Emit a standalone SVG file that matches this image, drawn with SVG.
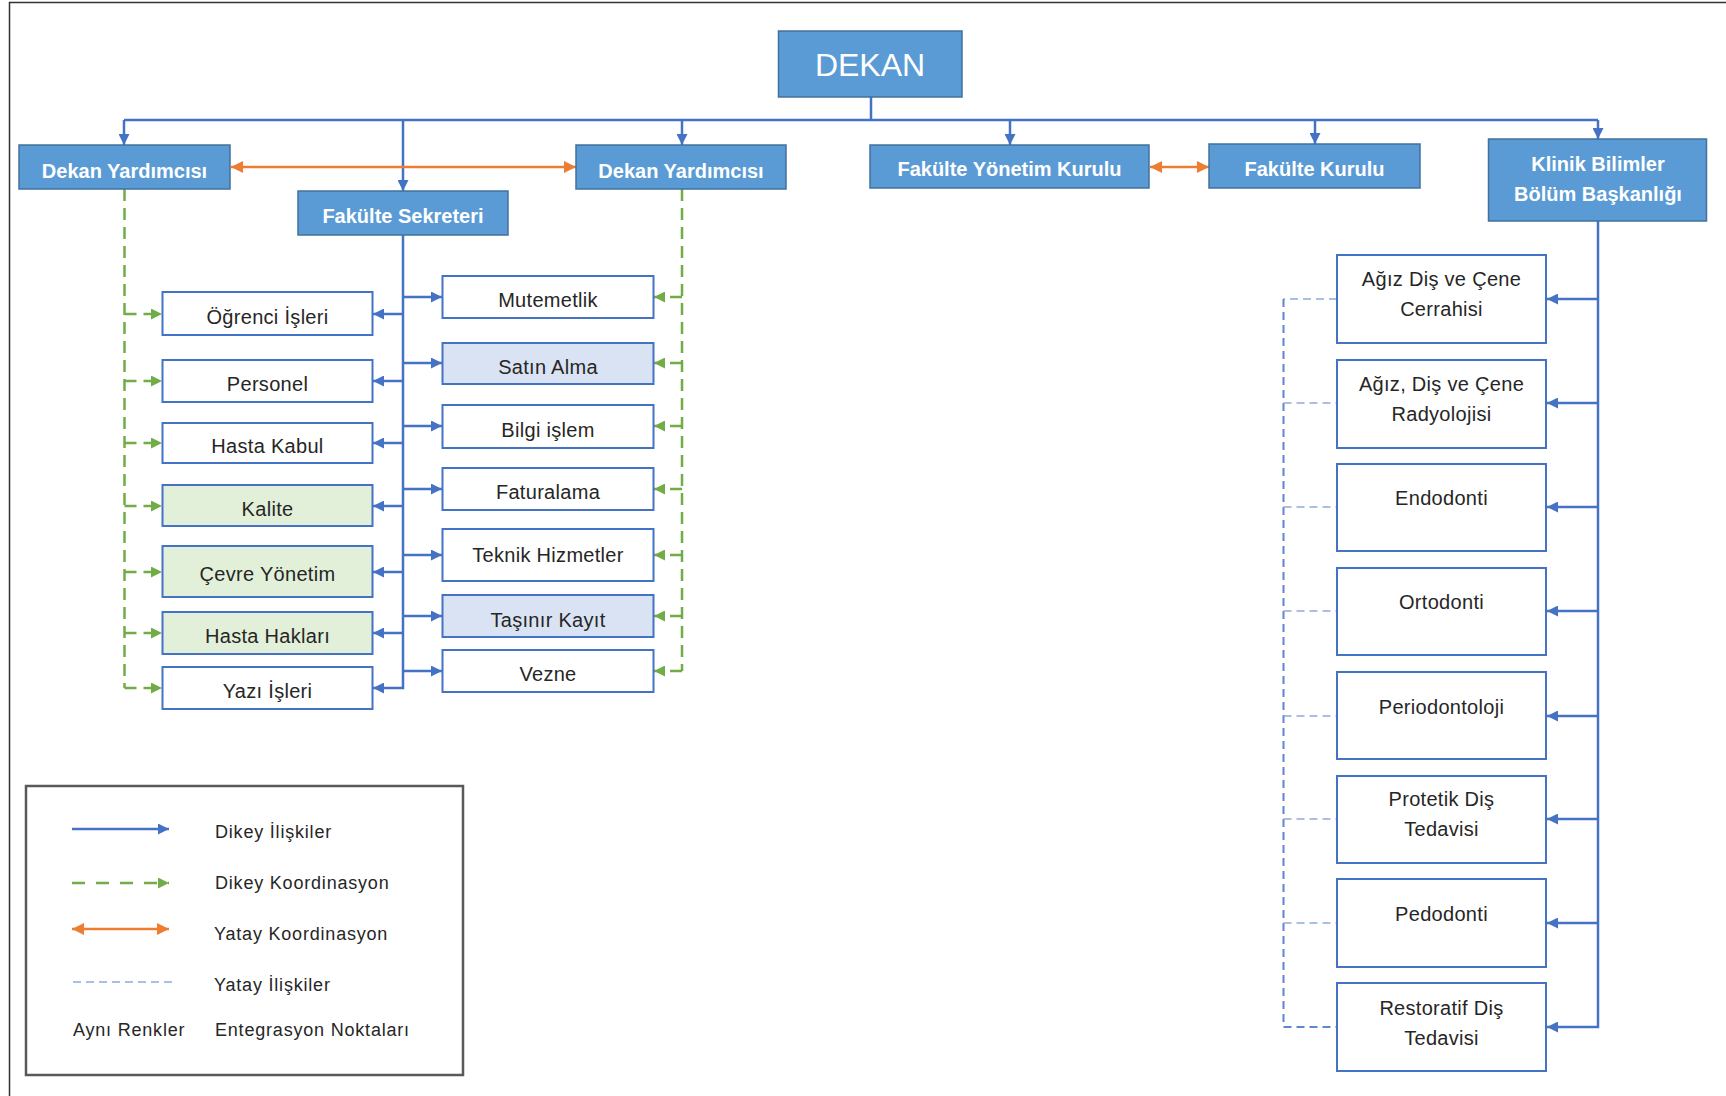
<svg xmlns="http://www.w3.org/2000/svg" width="1726" height="1096" viewBox="0 0 1726 1096">
<defs>
<style>
.hdr rect{fill:#5B9BD5;stroke:#41719C;stroke-width:1.5}
.hdr text{fill:#ffffff;font-family:"Liberation Sans",Arial,sans-serif;font-weight:bold;font-size:20px;text-anchor:middle}
.box rect{fill:#ffffff;stroke:#4472C4;stroke-width:2}
.box.g rect{fill:#E2F0D9}
.box.b rect{fill:#DAE3F3}
.box text{fill:#262626;font-family:"Liberation Sans",Arial,sans-serif;font-size:20px;text-anchor:middle;letter-spacing:0.3px}
.blue{fill:none;stroke:#4472C4;stroke-width:2.5}
.green{fill:none;stroke:#70AD47;stroke-width:2.5;stroke-dasharray:12 7}
.orange{fill:none;stroke:#ED7D31;stroke-width:2.5}
.lb{fill:none;stroke:#8FAADC;stroke-width:1.6;stroke-dasharray:8 5}
.lbv{fill:none;stroke:#5F86CF;stroke-width:2;stroke-dasharray:8 5}
.leg{fill:#262626;font-family:"Liberation Sans",Arial,sans-serif;font-size:18px;letter-spacing:0.8px}
</style>
<marker id="ab" viewBox="0 0 10 10" refX="10" refY="5" markerWidth="12" markerHeight="11" markerUnits="userSpaceOnUse" orient="auto"><path d="M0,0 L10,5 L0,10 z" fill="#4472C4"/></marker>
<marker id="ag" viewBox="0 0 10 10" refX="10" refY="5" markerWidth="12" markerHeight="11" markerUnits="userSpaceOnUse" orient="auto"><path d="M0,0 L10,5 L0,10 z" fill="#70AD47"/></marker>
<marker id="ao" viewBox="0 0 10 10" refX="10" refY="5" markerWidth="12" markerHeight="12" markerUnits="userSpaceOnUse" orient="auto-start-reverse"><path d="M0,0 L10,5 L0,10 z" fill="#ED7D31"/></marker>
</defs>
<rect x="0" y="0" width="1726" height="1096" fill="#ffffff"/>
<path d="M9.5,1096 V2.5 H1726" fill="none" stroke="#333333" stroke-width="1.5"/>

<g id="connectors">
<path class="blue" d="M871,97 V120 M124,120 H1598"/>
<path class="blue" marker-end="url(#ab)" d="M124,120 V145"/>
<path class="blue" marker-end="url(#ab)" d="M403,120 V191"/>
<path class="blue" marker-end="url(#ab)" d="M682,120 V145"/>
<path class="blue" marker-end="url(#ab)" d="M1010,120 V145"/>
<path class="blue" marker-end="url(#ab)" d="M1315,120 V144"/>
<path class="blue" marker-end="url(#ab)" d="M1598,120 V139"/>
<path class="orange" marker-start="url(#ao)" marker-end="url(#ao)" d="M231,167 H576"/>
<path class="orange" marker-start="url(#ao)" marker-end="url(#ao)" d="M1150,167 H1209"/>
<path class="blue" marker-end="url(#ab)" d="M403,235 V688 H373"/>
<path class="blue" marker-end="url(#ab)" d="M403,314 H373"/>
<path class="blue" marker-end="url(#ab)" d="M403,381 H373"/>
<path class="blue" marker-end="url(#ab)" d="M403,443 H373"/>
<path class="blue" marker-end="url(#ab)" d="M403,506 H373"/>
<path class="blue" marker-end="url(#ab)" d="M403,572 H373"/>
<path class="blue" marker-end="url(#ab)" d="M403,633 H373"/>
<path class="blue" marker-end="url(#ab)" d="M403,297 H442"/>
<path class="blue" marker-end="url(#ab)" d="M403,363 H442"/>
<path class="blue" marker-end="url(#ab)" d="M403,426 H442"/>
<path class="blue" marker-end="url(#ab)" d="M403,489 H442"/>
<path class="blue" marker-end="url(#ab)" d="M403,555 H442"/>
<path class="blue" marker-end="url(#ab)" d="M403,616 H442"/>
<path class="blue" marker-end="url(#ab)" d="M403,671 H442"/>
<path class="green" d="M124.5,189 V688"/>
<path class="green" marker-end="url(#ag)" d="M124.5,314 H162"/>
<path class="green" marker-end="url(#ag)" d="M124.5,381 H162"/>
<path class="green" marker-end="url(#ag)" d="M124.5,443 H162"/>
<path class="green" marker-end="url(#ag)" d="M124.5,506 H162"/>
<path class="green" marker-end="url(#ag)" d="M124.5,572 H162"/>
<path class="green" marker-end="url(#ag)" d="M124.5,633 H162"/>
<path class="green" marker-end="url(#ag)" d="M124.5,688 H162"/>
<path class="green" d="M682,189 V671"/>
<path class="green" marker-end="url(#ag)" d="M682,297 H654"/>
<path class="green" marker-end="url(#ag)" d="M682,363 H654"/>
<path class="green" marker-end="url(#ag)" d="M682,426 H654"/>
<path class="green" marker-end="url(#ag)" d="M682,489 H654"/>
<path class="green" marker-end="url(#ag)" d="M682,555 H654"/>
<path class="green" marker-end="url(#ag)" d="M682,616 H654"/>
<path class="green" marker-end="url(#ag)" d="M682,671 H654"/>
<path class="blue" marker-end="url(#ab)" d="M1598,221 V1027 H1547"/>
<path class="blue" marker-end="url(#ab)" d="M1598,299 H1547"/>
<path class="blue" marker-end="url(#ab)" d="M1598,403 H1547"/>
<path class="blue" marker-end="url(#ab)" d="M1598,507 H1547"/>
<path class="blue" marker-end="url(#ab)" d="M1598,611 H1547"/>
<path class="blue" marker-end="url(#ab)" d="M1598,716 H1547"/>
<path class="blue" marker-end="url(#ab)" d="M1598,819 H1547"/>
<path class="blue" marker-end="url(#ab)" d="M1598,923 H1547"/>
<path class="lb" d="M1337,299 H1283.5"/>
<path class="lbv" d="M1283.5,299 V1027 H1337"/>
<path class="lb" d="M1283.5,403 H1337 M1283.5,507 H1337 M1283.5,611 H1337 M1283.5,716 H1337 M1283.5,819 H1337 M1283.5,923 H1337"/>
</g>

<g id="dekan" class="hdr"><rect x="778.5" y="31" width="183.5" height="66"/><text x="870" y="76" style="font-size:32px;font-weight:normal">DEKAN</text></g>
<g id="dekan-yard-1" class="hdr"><rect x="19" y="145" width="211" height="44"/><text x="124.5" y="178">Dekan Yardımcısı</text></g>
<g id="dekan-yard-2" class="hdr"><rect x="576" y="145" width="210" height="44"/><text x="681" y="178">Dekan Yardımcısı</text></g>
<g id="fak-sekreteri" class="hdr"><rect x="298" y="191" width="210" height="44"/><text x="403" y="223">Fakülte Sekreteri</text></g>
<g id="fak-yonetim" class="hdr"><rect x="870" y="145" width="279" height="43"/><text x="1009.5" y="176">Fakülte Yönetim Kurulu</text></g>
<g id="fak-kurulu" class="hdr"><rect x="1209" y="144" width="211" height="44"/><text x="1314.5" y="176">Fakülte Kurulu</text></g>
<g id="klinik" class="hdr"><rect x="1488.5" y="139" width="218" height="82"/><text x="1598" y="171">Klinik Bilimler</text><text x="1598" y="201">Bölüm Başkanlığı</text></g>

<g id="ogrenci" class="box"><rect x="162.5" y="292" width="210" height="43"/><text x="267.5" y="324">Öğrenci İşleri</text></g>
<g id="personel" class="box"><rect x="162.5" y="360" width="210" height="42"/><text x="267.5" y="391">Personel</text></g>
<g id="hasta-kabul" class="box"><rect x="162.5" y="423" width="210" height="40"/><text x="267.5" y="453">Hasta Kabul</text></g>
<g id="kalite" class="box g"><rect x="162.5" y="485" width="210" height="41"/><text x="267.5" y="516">Kalite</text></g>
<g id="cevre" class="box g"><rect x="162.5" y="546" width="210" height="51"/><text x="267.5" y="581">Çevre Yönetim</text></g>
<g id="hasta-haklari" class="box g"><rect x="162.5" y="612" width="210" height="42"/><text x="267.5" y="643">Hasta Hakları</text></g>
<g id="yazi" class="box"><rect x="162.5" y="667" width="210" height="42"/><text x="267.5" y="698">Yazı İşleri</text></g>

<g id="mutemetlik" class="box"><rect x="442.5" y="276" width="211" height="42"/><text x="548" y="307">Mutemetlik</text></g>
<g id="satin-alma" class="box b"><rect x="442.5" y="343" width="211" height="41"/><text x="548" y="374">Satın Alma</text></g>
<g id="bilgi" class="box"><rect x="442.5" y="405" width="211" height="43"/><text x="548" y="437">Bilgi işlem</text></g>
<g id="faturalama" class="box"><rect x="442.5" y="468" width="211" height="42"/><text x="548" y="499">Faturalama</text></g>
<g id="teknik" class="box"><rect x="442.5" y="529" width="211" height="52"/><text x="548" y="562">Teknik Hizmetler</text></g>
<g id="tasinir" class="box b"><rect x="442.5" y="595" width="211" height="42"/><text x="548" y="627">Taşınır Kayıt</text></g>
<g id="vezne" class="box"><rect x="442.5" y="650" width="211" height="42"/><text x="548" y="681">Vezne</text></g>

<g id="cerrahi" class="box"><rect x="1337" y="255" width="209" height="88"/><text x="1441.5" y="286">Ağız Diş ve Çene</text><text x="1441.5" y="316">Cerrahisi</text></g>
<g id="radyoloji" class="box"><rect x="1337" y="360" width="209" height="88"/><text x="1441.5" y="391">Ağız, Diş ve Çene</text><text x="1441.5" y="421">Radyolojisi</text></g>
<g id="endodonti" class="box"><rect x="1337" y="464" width="209" height="87"/><text x="1441.5" y="505">Endodonti</text></g>
<g id="ortodonti" class="box"><rect x="1337" y="568" width="209" height="87"/><text x="1441.5" y="609">Ortodonti</text></g>
<g id="periodontoloji" class="box"><rect x="1337" y="672" width="209" height="87"/><text x="1441.5" y="714">Periodontoloji</text></g>
<g id="protetik" class="box"><rect x="1337" y="776" width="209" height="87"/><text x="1441.5" y="806">Protetik Diş</text><text x="1441.5" y="836">Tedavisi</text></g>
<g id="pedodonti" class="box"><rect x="1337" y="879" width="209" height="88"/><text x="1441.5" y="921">Pedodonti</text></g>
<g id="restoratif" class="box"><rect x="1337" y="983" width="209" height="88"/><text x="1441.5" y="1015">Restoratif Diş</text><text x="1441.5" y="1045">Tedavisi</text></g>

<g id="legend">
<rect x="26" y="786" width="437" height="289" fill="#ffffff" stroke="#595959" stroke-width="2.5"/>
<path class="blue" marker-end="url(#ab)" d="M72,829 H169"/>
<path class="green" marker-end="url(#ag)" style="stroke-dasharray:13 11" d="M72,883 H169"/>
<path class="orange" marker-start="url(#ao)" marker-end="url(#ao)" d="M72,929 H169"/>
<path class="lb" d="M73,982 H172"/>
<text class="leg" x="215" y="838">Dikey İlişkiler</text>
<text class="leg" x="215" y="889">Dikey Koordinasyon</text>
<text class="leg" x="214" y="940">Yatay Koordinasyon</text>
<text class="leg" x="214" y="991">Yatay İlişkiler</text>
<text class="leg" x="73" y="1036">Aynı Renkler</text>
<text class="leg" x="215" y="1036">Entegrasyon Noktaları</text>
</g>
</svg>
